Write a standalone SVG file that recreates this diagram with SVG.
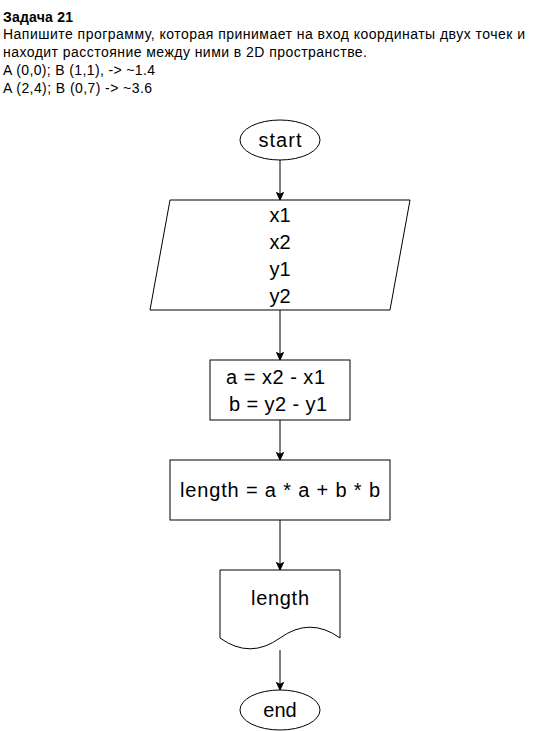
<svg xmlns="http://www.w3.org/2000/svg" width="551" height="731" viewBox="0 0 551 731">
<defs>
<style>
.hdr{font-family:"Liberation Sans",Arial,sans-serif;font-size:14px;fill:#000}
.t{font-family:"Liberation Sans",Arial,sans-serif;font-size:20px;fill:#000;text-anchor:middle}
.s{fill:#fff;stroke:#000;stroke-width:1}
.c{stroke:#000;stroke-width:1;fill:none}
</style>
<marker id="arr" markerUnits="userSpaceOnUse" markerWidth="10" markerHeight="10" refX="8" refY="4" orient="auto" viewBox="0 0 10 8">
<path d="M0.5,0.5 L8,4 L0.5,7.5 L2.3,4 Z" fill="#000" stroke="#000" stroke-width="1"/>
</marker>
</defs>
<rect width="551" height="731" fill="#fff"/>
<g id="header">
<text class="hdr" x="3" y="21.5" font-weight="bold" textLength="70" lengthAdjust="spacing">Задача 21</text>
<text class="hdr" x="3" y="39" textLength="522" lengthAdjust="spacing">Напишите программу, которая принимает на вход координаты двух точек и</text>
<text class="hdr" x="3" y="57" textLength="364" lengthAdjust="spacing">находит расстояние между ними в 2D пространстве.</text>
<text class="hdr" x="3" y="75" textLength="152" lengthAdjust="spacing">A (0,0); B (1,1), -&gt; ~1.4</text>
<text class="hdr" x="3" y="92.5" textLength="149" lengthAdjust="spacing">A (2,4); B (0,7) -&gt; ~3.6</text>
</g>
<g id="connectors">
<line class="c" x1="280" y1="160" x2="280" y2="200" marker-end="url(#arr)"/>
<line class="c" x1="280" y1="310" x2="280" y2="360" marker-end="url(#arr)"/>
<line class="c" x1="280" y1="420" x2="280" y2="460" marker-end="url(#arr)"/>
<line class="c" x1="280" y1="520" x2="280" y2="570" marker-end="url(#arr)"/>
<line class="c" x1="280" y1="650" x2="280" y2="690" marker-end="url(#arr)"/>
</g>
<g id="start">
<ellipse class="s" cx="280" cy="140" rx="40" ry="20"/>
<text class="t" x="280" y="147" textLength="43" lengthAdjust="spacing">start</text>
</g>
<g id="input">
<polygon class="s" points="170,200 410,200 390,310 150,310"/>
<text class="t" x="280" y="222">x1</text>
<text class="t" x="280" y="249">x2</text>
<text class="t" x="280" y="276">y1</text>
<text class="t" x="280" y="303">y2</text>
</g>
<g id="calc1">
<rect class="s" x="210" y="360" width="140" height="60"/>
<text class="t" x="275.5" y="384" textLength="99" lengthAdjust="spacing">a = x2 - x1</text>
<text class="t" x="278" y="411" textLength="98" lengthAdjust="spacing">b = y2 - y1</text>
</g>
<g id="calc2">
<rect class="s" x="170" y="460" width="220" height="60"/>
<text class="t" x="280" y="497" textLength="200" lengthAdjust="spacing">length = a * a + b * b</text>
</g>
<g id="output">
<path class="s" d="M220,570 H340 V638 Q310,616.4 280,638 Q250,659.6 220,638 Z"/>
<text class="t" x="280" y="605" textLength="58" lengthAdjust="spacing">length</text>
</g>
<g id="end">
<ellipse class="s" cx="280" cy="710" rx="40" ry="20"/>
<text class="t" x="280" y="717">end</text>
</g>
</svg>
